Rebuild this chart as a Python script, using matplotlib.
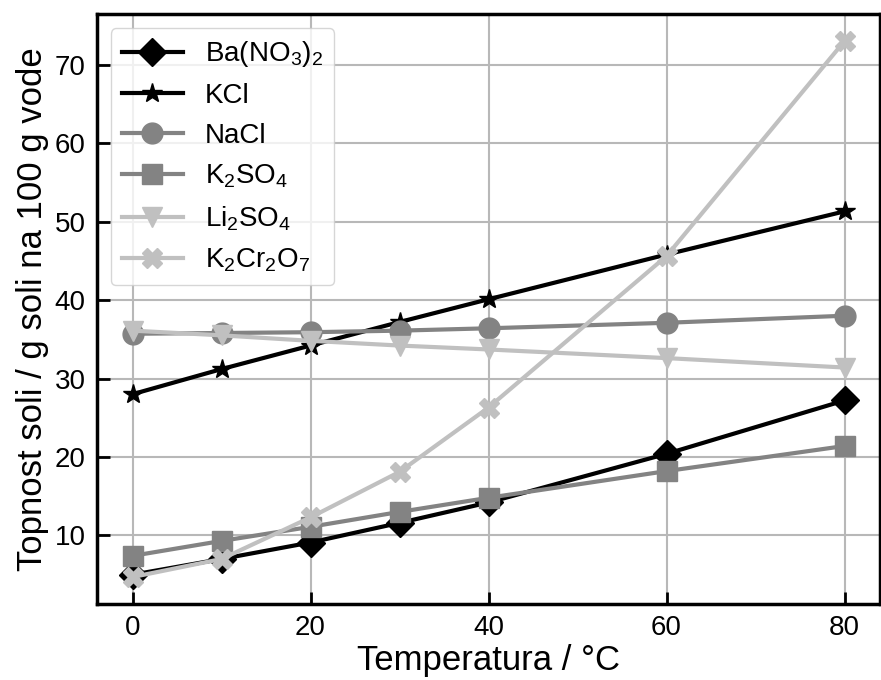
import matplotlib
matplotlib.use("Agg")
import matplotlib.pyplot as plt

temperature = [0, 10, 20, 30, 40, 60, 80]
ba_no3 = [5.0, 7.0, 9.1, 11.6, 14.2, 20.4, 27.2]
kcl = [28.0, 31.2, 34.2, 37.2, 40.1, 45.8, 51.3]
nacl = [35.7, 35.8, 35.9, 36.1, 36.4, 37.1, 38.0]
k2so4 = [7.4, 9.3, 11.1, 13.0, 14.8, 18.2, 21.4]
li2so4 = [36.1, 35.5, 34.8, 34.2, 33.7, 32.6, 31.4]
k2cr2o7 = [4.7, 7.0, 12.3, 18.1, 26.3, 45.6, 73.0]

labels = ["Ba(NO$_3$)$_2$", "KCl", "NaCl", "K$_2$SO$_4$", "Li$_2$SO$_4$", "K$_2$Cr$_2$O$_7$"]
series = [ba_no3, kcl, nacl, k2so4, li2so4, k2cr2o7]
markers = ["D", "*", "o", "s", "v", "X"]
colors = ["black", "black", "#838383", "#838383", "#c0c0c0", "#c0c0c0"]
sizes = [14, 15, 15, 14, 14, 14]

plt.rcParams["font.family"] = ["Liberation Sans", "DejaVu Sans"]
plt.rcParams["mathtext.default"] = "regular"

fig, ax = plt.subplots(figsize=(8.81, 6.8), dpi=100)
fig.subplots_adjust(left=0.11, right=0.999, top=0.979, bottom=0.112)

for ys, lab, m, c, s in zip(series, labels, markers, colors, sizes):
    ax.plot(temperature, ys, marker=m, color=c, label=lab, linewidth=3, markersize=s)

ax.grid(True, color="#b8b8b8", linewidth=1.5)
ax.set_axisbelow(True)
ax.set_xticks([0, 20, 40, 60, 80])
ax.set_yticks([10, 20, 30, 40, 50, 60, 70])
ax.tick_params(direction="in", length=9, width=2, labelsize=20, pad=8)
for sp in ax.spines.values():
    sp.set_linewidth(2.5)

ax.set_xlabel("Temperatura / °C", fontsize=25, labelpad=2)
ax.set_ylabel("Topnost soli / g soli na 100 g vode", fontsize=25, labelpad=4)
ax.legend(loc="upper left", fontsize=20, handlelength=2.2)

fig.savefig("out.png", dpi=100)
